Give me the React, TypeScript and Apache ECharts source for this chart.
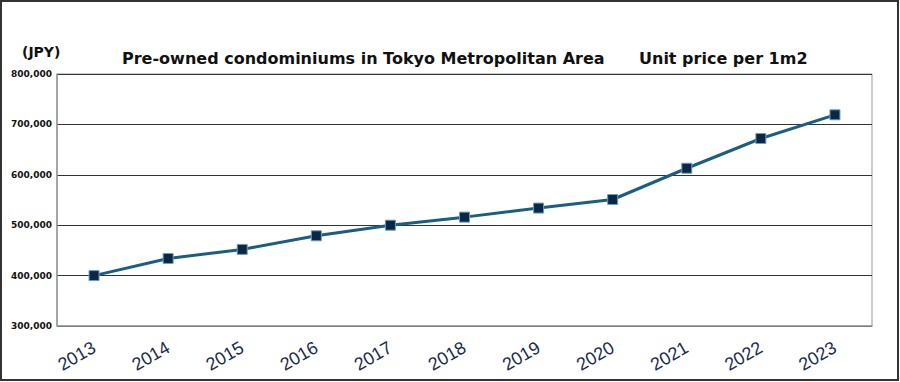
import React, { useEffect, useRef } from "react";
import * as echarts from "echarts";

const categories = ["2013", "2014", "2015", "2016", "2017", "2018", "2019", "2020", "2021", "2022", "2023"];
const unitPrice = [400000, 434000, 452000, 479000, 500000, 516000, 534000, 551000, 613000, 672000, 719000];
const titleLeft = "Pre-owned condominiums in Tokyo Metropolitan Area";
const titleRight = "Unit price per 1m2";
const unitLabel = "(JPY)";

export default function App() {
  const ref = useRef<HTMLDivElement>(null);
  useEffect(() => {
    document.body.style.margin = "0";
    const chart = echarts.init(ref.current!, null, { renderer: "svg" });
    const bold = { fontFamily: "DejaVu Sans", fontWeight: "bold" as const, color: "#111" };
    chart.setOption({
      animation: false,
      backgroundColor: "#fff",
      title: [
        { text: titleLeft, left: 117, top: 45, textStyle: { ...bold, fontSize: 16 } },
        { text: titleRight, left: 634, top: 45, textStyle: { ...bold, fontSize: 16 } },
        { text: unitLabel, left: 17, top: 40, textStyle: { ...bold, fontSize: 14 } },
      ],
      grid: { left: 57, right: 28, top: 74, bottom: 56, show: true, borderColor: "#999", borderWidth: 1 },
      xAxis: {
        type: "category",
        data: categories,
        boundaryGap: true,
        axisLine: { lineStyle: { color: "#999", width: 1.5 } },
        axisTick: { inside: true, length: 4, lineStyle: { color: "#666" } },
        axisLabel: {
          rotate: 30,
          margin: 20,
          fontSize: 18,
          fontFamily: "Liberation Sans",
          color: "#1c2a4a",
          interval: 0,
        },
      },
      yAxis: {
        type: "value",
        min: 300000,
        max: 800000,
        interval: 100000,
        axisLine: { show: true, lineStyle: { color: "#999", width: 1.5 } },
        axisTick: { show: false },
        splitLine: { lineStyle: { color: "#333", width: 1.2 } },
        axisLabel: {
          fontSize: 9,
          fontFamily: "DejaVu Sans",
          fontWeight: "bold",
          color: "#111",
          margin: 5,
          formatter: (v: number) => v.toLocaleString("en-US"),
        },
      },
      series: [
        {
          type: "line",
          data: unitPrice,
          symbol: "rect",
          symbolSize: 10,
          lineStyle: { color: "#1b5e82", width: 3 },
          itemStyle: { color: "#0c2646", borderColor: "#6f9dbb", borderWidth: 1 },
        },
      ],
      graphic: [
        {
          type: "rect",
          shape: { x: 1, y: 1, width: 897, height: 379 },
          style: { fill: "none", stroke: "#333", lineWidth: 2 },
          silent: true,
        },
      ],
    });
    return () => chart.dispose();
  }, []);
  return <div ref={ref} style={{ width: 900, height: 382 }} />;
}
